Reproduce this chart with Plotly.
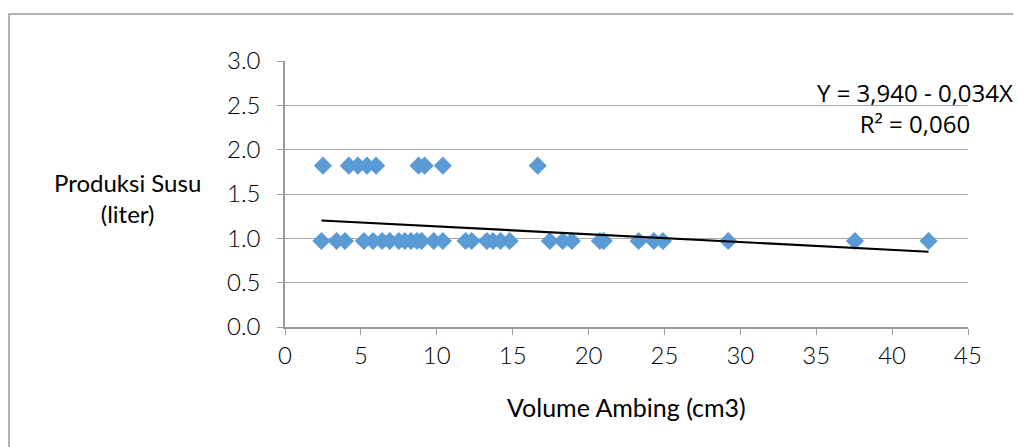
import plotly.graph_objects as go

# Data
volume_high = [2.5, 4.2, 4.8, 5.4, 6.0, 8.8, 9.2, 10.4, 16.65]
produksi_high = [1.82] * len(volume_high)

volume_low = [2.4, 3.4, 3.95, 5.2, 5.8, 6.4, 6.9, 7.5, 7.9, 8.3, 8.7, 9.0, 9.8, 10.4,
              11.9, 12.3, 13.3, 13.7, 14.2, 14.8, 17.45, 18.3, 18.9, 20.75, 21.0,
              23.3, 24.3, 24.9, 29.2, 37.55, 42.4]
produksi_low = [0.97] * len(volume_low)

# Trendline as drawn (intercept, slope)
trend_intercept = 1.222
trend_slope = -0.0088

x_ticks = [0, 5, 10, 15, 20, 25, 30, 35, 40, 45]
y_ticks = [0.0, 0.5, 1.0, 1.5, 2.0, 2.5, 3.0]

eq_text = "Y = 3,940 - 0,034X<br>R² = 0,060"
x_title = "Volume Ambing (cm3)"
y_title = "Produksi Susu<br>(liter)"

xs = volume_high + volume_low
ys = produksi_high + produksi_low
tx = [min(xs), max(xs)]
ty = [trend_intercept + trend_slope * v for v in tx]

fig = go.Figure()
fig.add_trace(go.Scatter(x=xs, y=ys, mode="markers",
                         marker=dict(symbol="diamond", size=14, color="#5B9BD5",
                                     line=dict(width=0)),
                         showlegend=False))
fig.add_trace(go.Scatter(x=tx, y=ty, mode="lines",
                         line=dict(color="black", width=2.2), showlegend=False))

OFF = 8  # browser body margin
W, H = 1021 - OFF, 447 - OFF
L = 285 - OFF
T = 61 - OFF
R = W - (968 - OFF)
B = H - (327 - OFF)
pw, ph = W - L - R, H - T - B

def px(xref_pix):
    return (xref_pix - OFF - L) / pw

def py(yref_pix):
    return (H - B - (yref_pix - OFF)) / ph

font_main = "Lato, Calibri, sans-serif"

fig.update_layout(
    width=W, height=H,
    margin=dict(l=L, r=R, t=T, b=B),
    paper_bgcolor="white", plot_bgcolor="white",
    font=dict(family=font_main, size=23, color="black"),
    xaxis=dict(range=[0, 45], tickvals=x_ticks, ticktext=[str(v) for v in x_ticks],
               showgrid=False, zeroline=False, showline=True, linecolor="#9a9a9a",
               linewidth=1.5, ticks="outside", ticklen=6, tickcolor="#9a9a9a",
               tickfont=dict(size=24, family=font_main, weight=300)),
    yaxis=dict(range=[0, 3.0], tickvals=y_ticks, ticktext=[f"{v:.1f}" for v in y_ticks],
               showgrid=True, gridcolor="#a6a6a6", gridwidth=1.2, zeroline=False,
               showline=True, linecolor="#9a9a9a", linewidth=1.5,
               ticks="outside", ticklen=6, tickcolor="#9a9a9a",
               ticklabelstandoff=12,
               tickfont=dict(size=24, family=font_main, weight=300)),
    annotations=[
        dict(text=y_title, xref="paper", yref="paper",
             x=px(127), y=py(198), xanchor="center", yanchor="middle",
             showarrow=False, align="center",
             font=dict(size=24, family=font_main)),
        dict(text=x_title, xref="paper", yref="paper",
             x=px(626), y=py(407), xanchor="center", yanchor="middle",
             showarrow=False, align="center",
             font=dict(size=25, family=font_main)),
        dict(text=eq_text, xref="paper", yref="paper", x=px(915), y=py(108),
             xanchor="center", yanchor="middle",
             showarrow=False, align="center",
             font=dict(size=24, family="'Open Sans', sans-serif")),
    ],
    shapes=[
        dict(type="rect", xref="paper", yref="paper",
             x0=px(9), x1=px(1040), y0=py(470), y1=py(14),
             line=dict(color="#9a9a9a", width=1.5), fillcolor="rgba(0,0,0,0)",
             layer="below"),
    ],
)

fig.write_html("out.html")
